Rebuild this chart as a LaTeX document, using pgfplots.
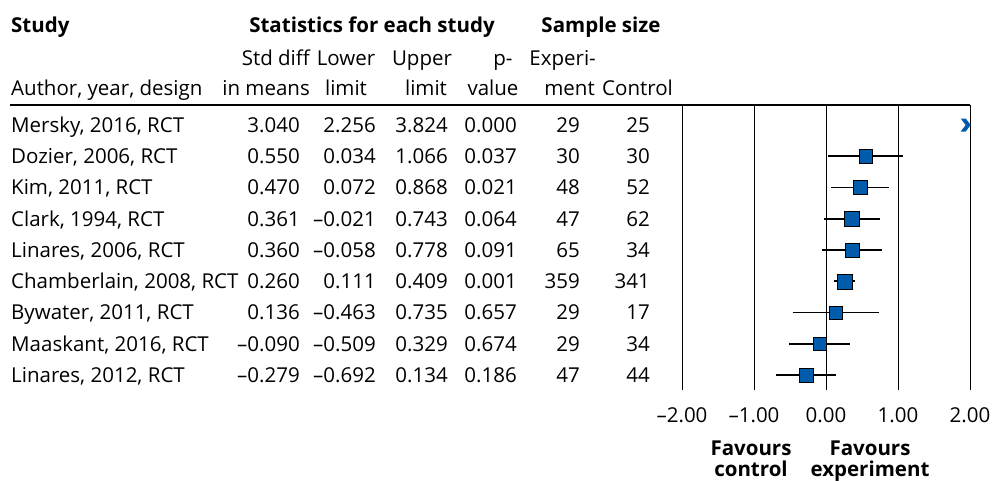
\documentclass[border=0pt]{standalone}
\usepackage{pgfplots}
\pgfplotsset{compat=1.18}
\usepackage{fontspec}
\setmainfont{Open Sans}
\definecolor{fc}{RGB}{0,92,170}
\pgfdeclareplotmark{chev}{%
  \pgfpathmoveto{\pgfqpoint{-5pt}{6.5pt}}%
  \pgfpathlineto{\pgfqpoint{0pt}{6.5pt}}%
  \pgfpathlineto{\pgfqpoint{5pt}{0pt}}%
  \pgfpathlineto{\pgfqpoint{0pt}{-6.5pt}}%
  \pgfpathlineto{\pgfqpoint{-5pt}{-6.5pt}}%
  \pgfpathlineto{\pgfqpoint{0pt}{0pt}}%
  \pgfpathclose
  \pgfusepathqfill}
\begin{document}
\fontsize{20.5}{24}\selectfont
\begin{tikzpicture}
\path[use as bounding box] (0pt,0pt) rectangle (993pt,-480pt);
% headers
\node[anchor=base west,inner sep=0,font=\bfseries] at (11pt,-32pt) {Study};
\node[anchor=base,inner sep=0,font=\bfseries] at (372pt,-32pt) {Statistics for each study};
\node[anchor=base,inner sep=0,font=\bfseries] at (601pt,-32pt) {Sample size};
\node[anchor=base east,inner sep=0] at (310pt,-65pt) {Std diff};
\node[anchor=base,inner sep=0] at (346pt,-65pt) {Lower};
\node[anchor=base,inner sep=0] at (422pt,-65pt) {Upper};
\node[anchor=base,inner sep=0] at (503pt,-65pt) {p-};
\node[anchor=base east,inner sep=0] at (596pt,-65pt) {Experi-};
\node[anchor=base west,inner sep=0] at (11pt,-95pt) {Author, year, design};
\node[anchor=base east,inner sep=0] at (310pt,-95pt) {in means};
\node[anchor=base,inner sep=0] at (346pt,-95pt) {limit};
\node[anchor=base,inner sep=0] at (426pt,-95pt) {limit};
\node[anchor=base,inner sep=0] at (493pt,-95pt) {value};
\node[anchor=base east,inner sep=0] at (595pt,-95pt) {ment};
\node[anchor=base west,inner sep=0] at (602pt,-95pt) {Control};
\draw[line width=1.2pt] (10pt,-105pt) -- (970pt,-105pt);
% table rows
\foreach \r/\n/\a/\b/\c/\p/\e/\k in {
 0/{Mersky, 2016, RCT}/3.040/2.256/3.824/0.000/29/25,
 1/{Dozier, 2006, RCT}/0.550/0.034/1.066/0.037/30/30,
 2/{Kim, 2011, RCT}/0.470/0.072/0.868/0.021/48/52,
 3/{Clark, 1994, RCT}/0.361/–0.021/0.743/0.064/47/62,
 4/{Linares, 2006, RCT}/0.360/–0.058/0.778/0.091/65/34,
 5/{Chamberlain, 2008, RCT}/0.260/0.111/0.409/0.001/359/341,
 6/{Bywater, 2011, RCT}/0.136/–0.463/0.735/0.657/29/17,
 7/{Maaskant, 2016, RCT}/–0.090/–0.509/0.329/0.674/29/34,
 8/{Linares, 2012, RCT}/–0.279/–0.692/0.134/0.186/47/44}{
 \pgfmathsetmacro\yy{-(132.3+31.25*\r)}
 \node[anchor=base west,inner sep=0] at (11pt,\yy pt) {\n};
 \node[anchor=base east,inner sep=0] at (300pt,\yy pt) {\a};
 \node[anchor=base east,inner sep=0] at (376pt,\yy pt) {\b};
 \node[anchor=base east,inner sep=0] at (448pt,\yy pt) {\c};
 \node[anchor=base east,inner sep=0] at (517pt,\yy pt) {\p};
 \node[anchor=base east,inner sep=0] at (580pt,\yy pt) {\e};
 \node[anchor=base east,inner sep=0] at (650pt,\yy pt) {\k};
}
\begin{axis}[
  at={(682pt,-390pt)}, anchor=south west, scale only axis,
  width=288pt, height=285pt,
  xmin=-2, xmax=2, ymin=0.52, ymax=9.64,
  axis line style={draw=none},
  xtick={-2,-1,0,1,2}, xticklabels={–2.00,–1.00,0.00,1.00,2.00},
  xmajorgrids, grid style={black, line width=1pt},
  ytick=\empty, major tick length=0pt,
  xticklabel style={anchor=base, yshift=-32pt, inner sep=0pt},
  clip=false,
]
% confidence intervals
\addplot[black, line width=1.6pt] coordinates {(0.034,8) (1.066,8)};
\addplot[black, line width=1.6pt] coordinates {(0.072,7) (0.868,7)};
\addplot[black, line width=1.6pt] coordinates {(-0.021,6) (0.743,6)};
\addplot[black, line width=1.6pt] coordinates {(-0.058,5) (0.778,5)};
\addplot[black, line width=1.6pt] coordinates {(0.111,4) (0.409,4)};
\addplot[black, line width=1.6pt] coordinates {(-0.463,3) (0.735,3)};
\addplot[black, line width=1.6pt] coordinates {(-0.509,2) (0.329,2)};
\addplot[black, line width=1.6pt] coordinates {(-0.692,1) (0.134,1)};
% point estimates
\addplot[only marks, mark=square*, mark size=6.65pt, mark options={draw=none, fill=fc}] coordinates {(0.550,8)};
\addplot[only marks, mark=square*, mark size=7.0pt, mark options={draw=none, fill=fc}] coordinates {(0.470,7)};
\addplot[only marks, mark=square*, mark size=7.3pt, mark options={draw=none, fill=fc}] coordinates {(0.361,6)};
\addplot[only marks, mark=square*, mark size=7.0pt, mark options={draw=none, fill=fc}] coordinates {(0.360,5)};
\addplot[only marks, mark=square*, mark size=7.5pt, mark options={draw=none, fill=fc}] coordinates {(0.260,4)};
\addplot[only marks, mark=square*, mark size=6.6pt, mark options={draw=none, fill=fc}] coordinates {(0.136,3)};
\addplot[only marks, mark=square*, mark size=6.65pt, mark options={draw=none, fill=fc}] coordinates {(-0.090,2)};
\addplot[only marks, mark=square*, mark size=7.1pt, mark options={draw=none, fill=fc}] coordinates {(-0.279,1)};
% off-scale estimate (Mersky)
\addplot[only marks, mark=chev, mark options={draw=none, fill=fc}] coordinates {(1.94,9)};
\end{axis}
\node[anchor=base,inner sep=0,font=\bfseries] at (751pt,-455pt) {Favours};
\node[anchor=base,inner sep=0,font=\bfseries] at (751pt,-476pt) {control};
\node[anchor=base,inner sep=0,font=\bfseries] at (870pt,-455pt) {Favours};
\node[anchor=base,inner sep=0,font=\bfseries] at (870pt,-476pt) {experiment};
\end{tikzpicture}
\end{document}
